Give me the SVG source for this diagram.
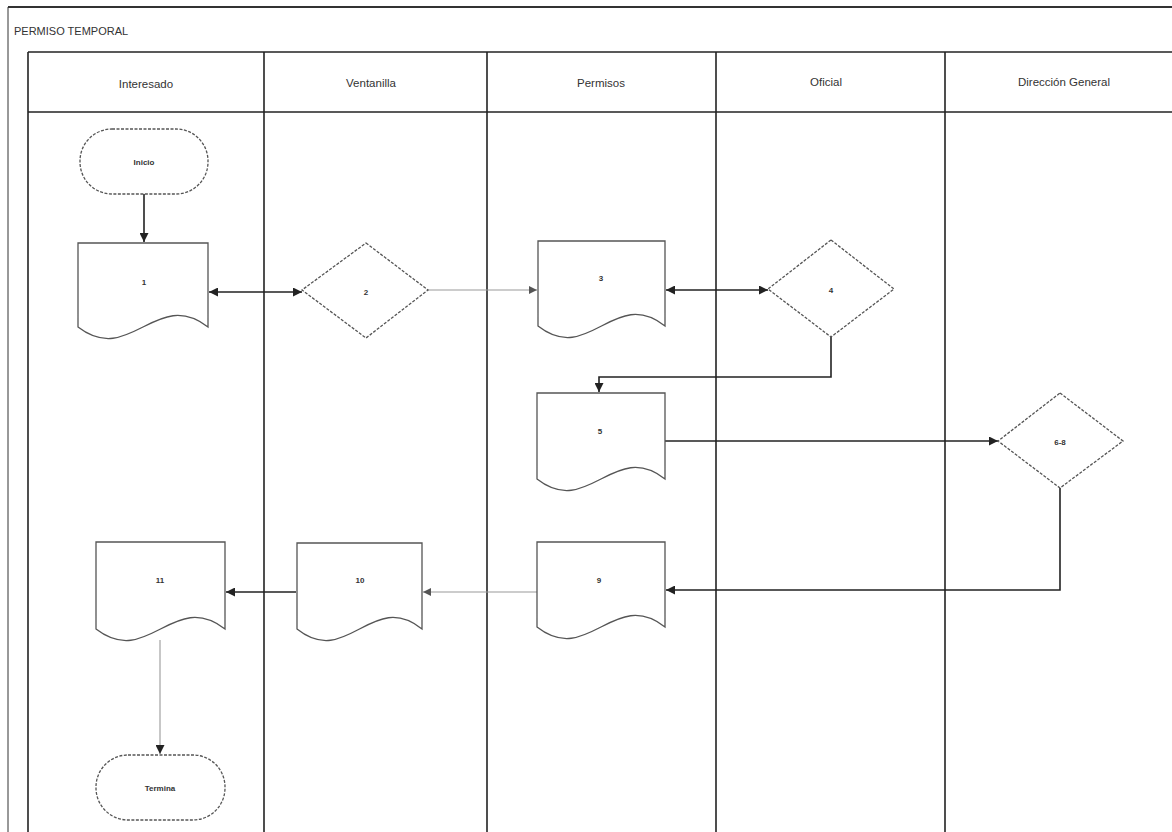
<svg xmlns="http://www.w3.org/2000/svg" width="1172" height="832" viewBox="0 0 1172 832">
<style>
.frame{stroke:#333;fill:none}
.lane{stroke:#222;stroke-width:1.6;fill:none}
.hdr{font-family:"Liberation Sans",Arial,sans-serif;font-size:11.5px;fill:#333;text-anchor:middle}
.ttl{font-family:"Liberation Sans",Arial,sans-serif;font-size:11px;fill:#333}
.shape{fill:#fff;stroke:#555;stroke-width:1.3}
.dot{fill:#fff;stroke:#555;stroke-width:1.3;stroke-dasharray:3 1.5}
.lbl{font-family:"Liberation Sans",Arial,sans-serif;font-size:8px;font-weight:bold;fill:#333;text-anchor:middle;dominant-baseline:central}
.c{fill:none;stroke:#222;stroke-width:1.6}
.cg{fill:none;stroke:#999;stroke-width:1.1}
</style>
<defs>
<marker id="ah" viewBox="0 0 10 10" refX="10" refY="5" markerWidth="9" markerHeight="9" markerUnits="userSpaceOnUse" orient="auto-start-reverse">
<path d="M0,0 L10,5 L0,10 z" fill="#222"/>
</marker>
<marker id="ahg" viewBox="0 0 10 10" refX="10" refY="5" markerWidth="8" markerHeight="8" markerUnits="userSpaceOnUse" orient="auto-start-reverse">
<path d="M0,0 L10,5 L0,10 z" fill="#555"/>
</marker>
</defs>
<rect width="1172" height="832" fill="#fff"/>
<g id="pool">
<line class="frame" x1="8" y1="7" x2="1172" y2="7" stroke-width="2"/>
<line class="frame" x1="8" y1="7" x2="8" y2="832" stroke-width="1" stroke="#999"/>
<text class="ttl" x="14" y="35">PERMISO TEMPORAL</text>
<line class="lane" x1="28" y1="52" x2="1172" y2="52"/>
<line class="lane" x1="28" y1="112" x2="1172" y2="112" stroke="#444"/>
<line class="lane" x1="28" y1="52" x2="28" y2="832" stroke-width="2.2"/>
<line class="lane" x1="264" y1="52" x2="264" y2="832"/>
<line class="lane" x1="487" y1="52" x2="487" y2="832"/>
<line class="lane" x1="716" y1="52" x2="716" y2="832"/>
<line class="lane" x1="945" y1="52" x2="945" y2="832" stroke="#555"/>
<text class="hdr" x="146" y="88">Interesado</text>
<text class="hdr" x="371" y="87">Ventanilla</text>
<text class="hdr" x="601" y="87">Permisos</text>
<text class="hdr" x="826" y="86">Oficial</text>
<text class="hdr" x="1064" y="86">Dirección General</text>
</g>
<g id="connectors">
<line class="c" x1="144" y1="194" x2="144" y2="242" marker-end="url(#ah)"/>
<line class="c" x1="209" y1="292" x2="302" y2="292" marker-start="url(#ah)" marker-end="url(#ah)"/>
<line class="cg" x1="428" y1="290" x2="537" y2="290" marker-end="url(#ahg)"/>
<line class="c" x1="666" y1="290" x2="768" y2="290" stroke-width="2.2" marker-start="url(#ah)" marker-end="url(#ah)"/>
<polyline class="c" points="831,337 831,377 599,377 599,392" stroke-width="2" marker-end="url(#ah)"/>
<line class="c" x1="665" y1="441" x2="998" y2="441" marker-end="url(#ah)"/>
<polyline class="c" points="1060,488 1060,590 666,590" stroke-width="1.8" marker-end="url(#ah)"/>
<line class="cg" x1="537" y1="592" x2="423" y2="592" marker-end="url(#ahg)"/>
<line class="c" x1="296" y1="592" x2="226" y2="592" stroke="#666" marker-end="url(#ah)"/>
<line class="cg" x1="160" y1="640" x2="160" y2="754" marker-end="url(#ah)"/>
</g>
<g id="n-inicio">
<rect class="dot" x="80" y="129" width="128" height="65" rx="32" ry="32"/>
<text class="lbl" x="144" y="162">Inicio</text>
</g>
<g id="n1">
<path class="shape" d="M78,243 H208 V327 C156,287 130,367 78,327 Z"/>
<text class="lbl" x="144" y="282">1</text>
</g>
<g id="n2">
<polygon class="dot" points="366,243 428,290 366,338 302,290"/>
<text class="lbl" x="366" y="292">2</text>
</g>
<g id="n3">
<path class="shape" d="M538,241 H665 V326 C614,286 589,366 538,326 Z"/>
<text class="lbl" x="601" y="278">3</text>
</g>
<g id="n4">
<polygon class="dot" points="831,240 894,289 831,337 768,289"/>
<text class="lbl" x="831" y="290">4</text>
</g>
<g id="n5">
<path class="shape" d="M537,393 H665 V479 C614,439 588,519 537,479 Z" stroke="#888"/>
<text class="lbl" x="600" y="431">5</text>
</g>
<g id="n6">
<polygon class="dot" points="1060,393 1123,441 1060,488 998,441"/>
<text class="lbl" x="1060" y="442">6-8</text>
</g>
<g id="n9">
<path class="shape" d="M537,542 H665 V627 C614,587 588,667 537,627 Z"/>
<text class="lbl" x="599" y="580">9</text>
</g>
<g id="n10">
<path class="shape" d="M297,543 H422 V629 C372,589 347,669 297,629 Z" stroke="#888"/>
<text class="lbl" x="360" y="580">10</text>
</g>
<g id="n11">
<path class="shape" d="M96,542 H225 V629 C173,589 148,669 96,629 Z"/>
<text class="lbl" x="160" y="580">11</text>
</g>
<g id="n-fin">
<rect class="dot" x="96" y="755" width="129" height="65" rx="32" ry="32"/>
<text class="lbl" x="160" y="788">Termina</text>
</g>
</svg>
